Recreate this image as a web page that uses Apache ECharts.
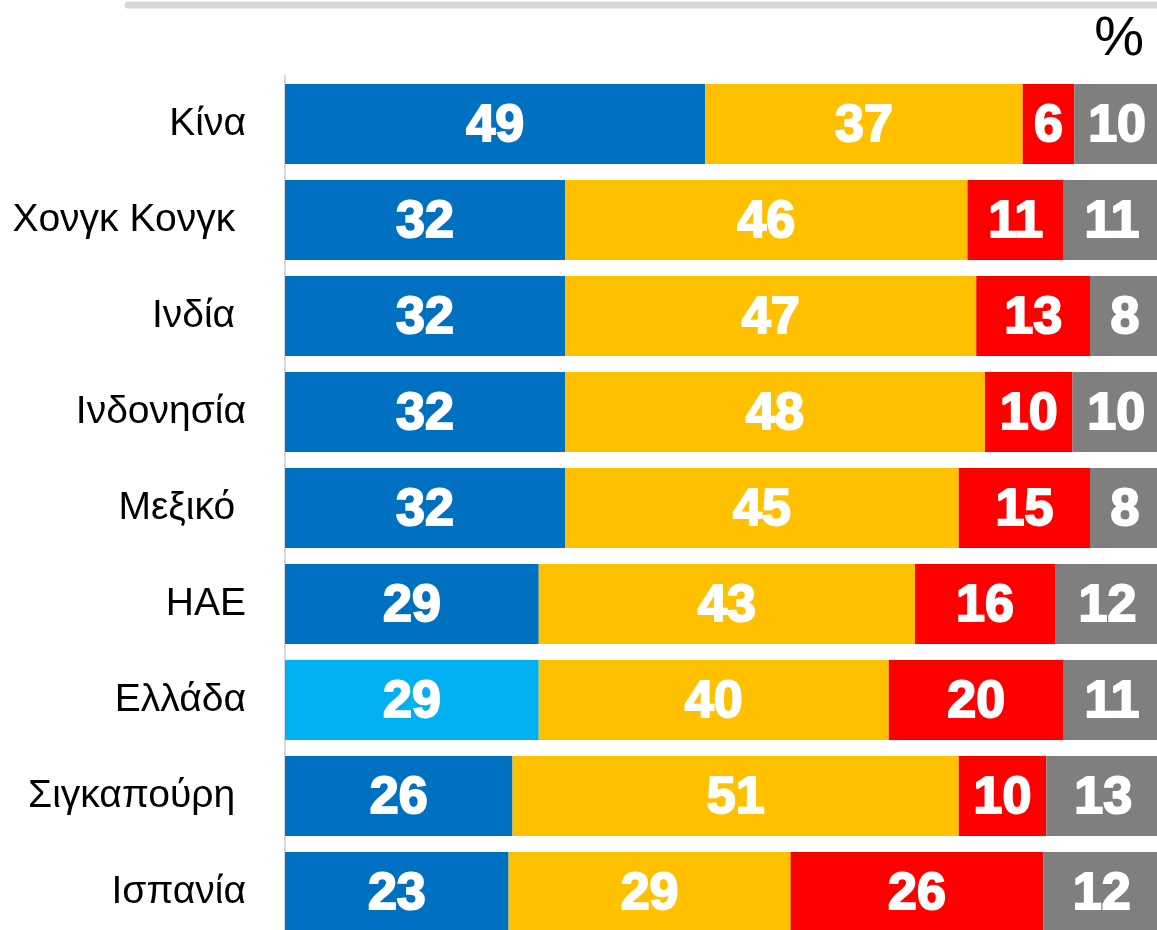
<!DOCTYPE html>
<html>
<head>
<meta charset="utf-8">
<script src="https://cdn.jsdelivr.net/npm/echarts@6/dist/echarts.min.js"></script>
<style>
  html, body { margin: 0; padding: 0; background: #fff; }
  #main { width: 1157px; height: 930px; }
</style>
</head>
<body>
<div id="main"></div>
<script>
// χώρες (το κενό στο τέλος υπάρχει και στο πρωτότυπο)
var categories = ['Κίνα', 'Χονγκ Κονγκ ', 'Ινδία ', 'Ινδονησία', 'Μεξικό ', 'ΗΑΕ', 'Ελλάδα', 'Σιγκαπούρη ', 'Ισπανία'];

// τιμές ανά σειρά (%)
var blueValues   = [49, 32, 32, 32, 32, 29, 29, 26, 23];
var yellowValues = [37, 46, 47, 48, 45, 43, 40, 51, 29];
var redValues    = [6, 11, 13, 10, 15, 16, 20, 10, 26];
var greyValues   = [10, 11, 8, 10, 8, 12, 11, 13, 12];

var highlightCountry = 'Ελλάδα';

var myChart = echarts.init(document.getElementById('main'));

// κάθε μπάρα γεμίζει όλο το πλάτος (100%)
var rowSums = categories.map(function (c, i) {
    return blueValues[i] + yellowValues[i] + redValues[i] + greyValues[i];
});

function makeSeries(name, values, color) {
    return {
        name: name,
        type: 'bar',
        stack: 'total',
        barWidth: 80,
        itemStyle: { color: color },
        label: {
            show: true,
            position: 'inside',
            offset: [0, 3],
            color: '#fff',
            fontFamily: 'Liberation Sans',
            fontWeight: 'bold',
            fontSize: 52,
            textBorderColor: '#fff',
            textBorderWidth: 2,
            formatter: function (p) { return values[p.dataIndex]; }
        },
        data: values.map(function (v, i) {
            var item = { value: v / rowSums[i] * 100 };
            if (name === 'blue' && categories[i] === highlightCountry) {
                item.itemStyle = { color: '#00B0F0' };
            }
            return item;
        })
    };
}

var option = {
    animation: false,
    grid: { left: 285, top: 76, width: 875, height: 864, outerBoundsMode: 'none' },
    xAxis: {
        type: 'value',
        min: 0,
        max: 100,
        show: false
    },
    yAxis: {
        type: 'category',
        inverse: true,
        data: categories,
        axisLine: { show: true, lineStyle: { color: '#d9d9d9', width: 2 } },
        axisTick: { show: false },
        splitLine: { show: false },
        axisLabel: {
            margin: 39,
            padding: [3, 0, 0, 0],
            color: '#000',
            fontFamily: 'Liberation Sans',
            fontSize: 39
        }
    },
    series: [
        makeSeries('blue', blueValues, '#0070C0'),
        makeSeries('yellow', yellowValues, '#FFC000'),
        makeSeries('red', redValues, '#FF0000'),
        makeSeries('grey', greyValues, '#7F7F7F')
    ],
    graphic: [
        {
            type: 'line',
            shape: { x1: 128, y1: 5, x2: 1175, y2: 5 },
            style: { stroke: '#d6d6d6', lineWidth: 7, lineCap: 'round' }
        },
        {
            type: 'text',
            right: 13,
            top: 12,
            style: {
                text: '%',
                fill: '#000',
                font: '56px "Liberation Sans Narrow", "Liberation Sans", sans-serif'
            }
        }
    ]
};

myChart.setOption(option);
</script>
</body>
</html>
